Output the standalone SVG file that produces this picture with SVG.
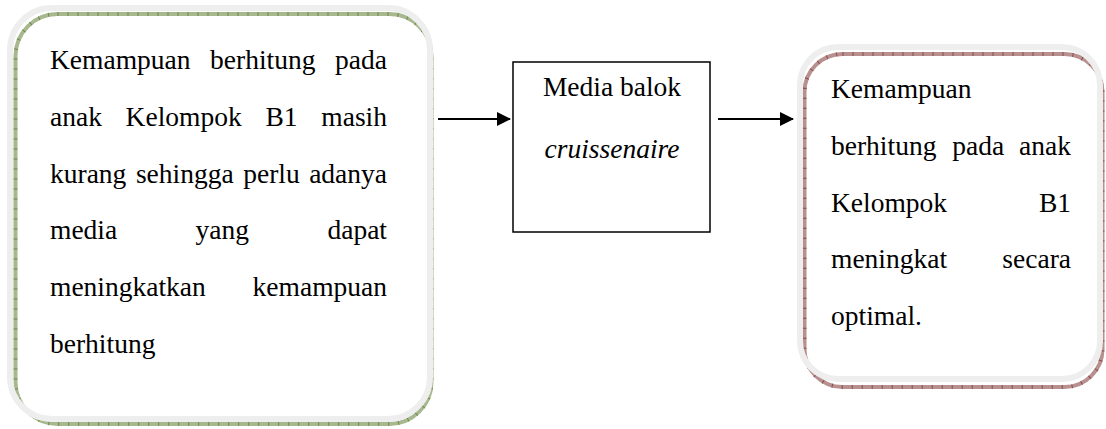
<svg xmlns="http://www.w3.org/2000/svg" width="1106" height="429" viewBox="0 0 1106 429">
<defs>
<style>
.t{font-family:"Liberation Serif","Times New Roman",serif;font-size:27.5px;fill:#000}
.it{font-style:italic}
.glow{fill:none;stroke:#eeeeee;stroke-width:6}
.gbase{fill:none;stroke:#a7b88f;stroke-width:4}
.gtick{fill:none;stroke:#6f8a4a;stroke-width:4;stroke-dasharray:1 9}
.mbase{fill:none;stroke:#b99090;stroke-width:4}
.mtick{fill:none;stroke:#8a4a4a;stroke-width:4;stroke-dasharray:1 9}
.conn{stroke:#000;stroke-width:2;fill:none}
</style>
<marker id="ah" markerWidth="14" markerHeight="14" refX="13" refY="7" orient="auto" markerUnits="userSpaceOnUse">
<path d="M0,0 L14,7 L0,14 Z" fill="#000"/>
</marker>
</defs>
<rect width="1106" height="429" fill="#fff"/>

<g id="node-problem">
<rect x="10" y="8" width="420" height="411" rx="42" fill="#fff"/>
<rect class="gbase" x="15.5" y="14" width="416" height="410" rx="42"/>
<rect class="gtick" x="15.5" y="14" width="416" height="410" rx="42"/>
<rect class="glow" x="10" y="8" width="420" height="411" rx="42"/>
<text class="t" y="69"><tspan x="50">Kemampuan</tspan><tspan x="210.1">berhitung</tspan><tspan x="387" text-anchor="end">pada</tspan></text>
<text class="t" y="126"><tspan x="50">anak</tspan><tspan x="125.6">Kelompok</tspan><tspan x="265.4">B1</tspan></text>
<text class="t" x="387" y="126" text-anchor="end">masih</text>
<text class="t" y="183"><tspan x="50">kurang</tspan><tspan x="135.9">sehingga</tspan><tspan x="243.2">perlu</tspan></text>
<text class="t" x="387" y="183" text-anchor="end">adanya</text>
<text class="t" y="239"><tspan x="50">media</tspan><tspan x="195.6">yang</tspan></text>
<text class="t" x="387" y="239" text-anchor="end">dapat</text>
<text class="t" x="50" y="296">meningkatkan</text>
<text class="t" x="387" y="296" text-anchor="end">kemampuan</text>
<text class="t" x="50" y="353">berhitung</text>
</g>

<g id="node-media">
<rect x="513" y="62" width="197" height="170" fill="#fff" stroke="#000" stroke-width="1.5"/>
<text class="t" x="612" y="96" text-anchor="middle">Media balok</text>
<text class="t it" x="612" y="158" text-anchor="middle">cruissenaire</text>
</g>

<g id="node-result">
<rect x="800" y="47" width="300" height="332" rx="38" fill="#fff"/>
<rect class="mbase" x="804.5" y="54" width="298" height="333" rx="38"/>
<rect class="mtick" x="804.5" y="54" width="298" height="333" rx="38"/>
<rect class="glow" x="800" y="47" width="300" height="332" rx="38"/>
<text class="t" x="831" y="98">Kemampuan</text>
<text class="t" y="155"><tspan x="831">berhitung</tspan><tspan x="952.3">pada</tspan></text>
<text class="t" x="1071" y="155" text-anchor="end">anak</text>
<text class="t" x="831" y="212">Kelompok</text>
<text class="t" x="1071" y="212" text-anchor="end">B1</text>
<text class="t" x="831" y="268">meningkat</text>
<text class="t" x="1071" y="268" text-anchor="end">secara</text>
<text class="t" x="831" y="325">optimal.</text>
</g>

<g id="connectors">
<line class="conn" x1="438" y1="119" x2="510" y2="119" marker-end="url(#ah)"/>
<line class="conn" x1="718" y1="119" x2="793" y2="119" marker-end="url(#ah)"/>
</g>
</svg>
